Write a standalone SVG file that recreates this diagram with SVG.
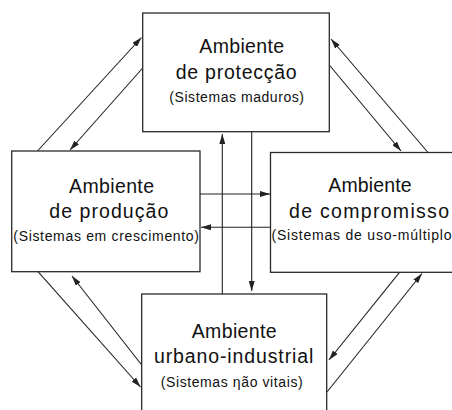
<svg xmlns="http://www.w3.org/2000/svg" width="452" height="410" viewBox="0 0 452 410">
<style>
.box{fill:#fff;stroke:#2a2a2a;stroke-width:1.3}
.t{font-family:"Liberation Sans",Arial,sans-serif;font-size:19.5px;fill:#111}
.s{font-family:"Liberation Sans",Arial,sans-serif;font-size:14px;fill:#111}
.c line{stroke:#222;stroke-width:1.1;fill:none;marker-end:url(#ah)}
</style>
<defs>
<marker id="ah" markerUnits="userSpaceOnUse" markerWidth="10" markerHeight="6" refX="10" refY="3" orient="auto">
<path d="M0,0 L10,3 L0,6 z" fill="#222"/>
</marker>
</defs>
<rect width="452" height="410" fill="#fff"/>
<g class="c" id="connectors">
<line x1="37.5" y1="151" x2="141.5" y2="37.5"/>
<line x1="142.7" y1="68" x2="70" y2="150"/>
<line x1="428" y1="152.5" x2="331" y2="39"/>
<line x1="329.3" y1="65" x2="401" y2="151"/>
<line x1="38" y1="271.7" x2="140.5" y2="387"/>
<line x1="141.7" y1="365" x2="72" y2="276"/>
<line x1="399.5" y1="272.3" x2="329" y2="360"/>
<line x1="327" y1="392" x2="422" y2="273.5"/>
<line x1="222.3" y1="294" x2="222.3" y2="134"/>
<line x1="251.7" y1="131.7" x2="251.7" y2="291"/>
<line x1="200" y1="194" x2="270" y2="194"/>
<line x1="270.5" y1="227.3" x2="201" y2="227.3"/>
</g>
<g id="protecao">
<rect class="box" x="142.7" y="13" width="186.6" height="118.7"/>
<text class="t" x="199.3" y="52.5" textLength="84.7" lengthAdjust="spacing">Ambiente</text>
<text class="t" x="175.7" y="78.5" textLength="121" lengthAdjust="spacing">de protecção</text>
<text class="s" x="169.3" y="101.5" textLength="134.7" lengthAdjust="spacing">(Sistemas maduros)</text>
</g>
<g id="producao">
<rect class="box" x="11.7" y="151" width="188.3" height="120.7"/>
<text class="t" x="69" y="192.5" textLength="85" lengthAdjust="spacing">Ambiente</text>
<text class="t" x="49.3" y="217.5" textLength="119" lengthAdjust="spacing">de produção</text>
<text class="s" x="13.3" y="241" textLength="185.7" lengthAdjust="spacing">(Sistemas em crescimento)</text>
</g>
<g id="compromisso">
<rect class="box" x="270.5" y="152.5" width="200" height="119.8"/>
<text class="t" x="328.3" y="191.7" textLength="83.4" lengthAdjust="spacing">Ambiente</text>
<text class="t" x="289" y="218" textLength="160" lengthAdjust="spacing">de compromisso</text>
<text class="s" x="271.5" y="240" textLength="180" lengthAdjust="spacing">(Sistemas de uso-múltiplo</text>
</g>
<g id="urbano">
<rect class="box" x="141.7" y="294" width="185" height="130"/>
<text class="t" x="191.7" y="338.3" textLength="85" lengthAdjust="spacing">Ambiente</text>
<text class="t" x="154" y="363.3" textLength="159.3" lengthAdjust="spacing">urbano-industrial</text>
<text class="s" x="160.7" y="387" textLength="142" lengthAdjust="spacing">(Sistemas ηão vitais)</text>
</g>
</svg>
